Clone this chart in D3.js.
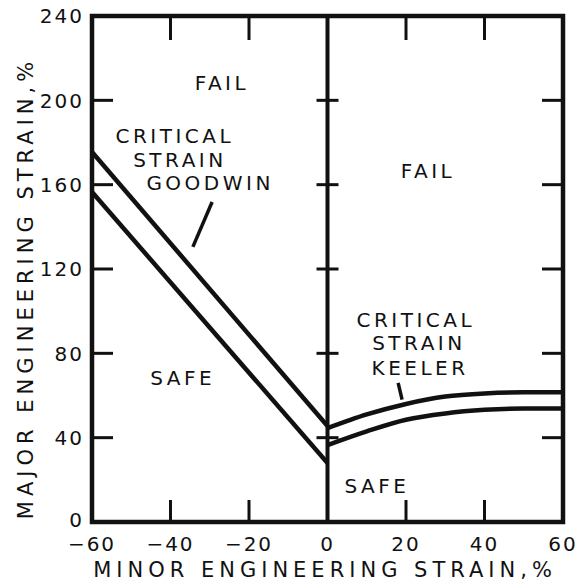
<!DOCTYPE html>
<html>
<head>
<meta charset="utf-8">
<script src="https://cdn.jsdelivr.net/npm/d3@7"></script>
<style>
  body { margin: 0; background: #fff; }
  text { font-family: "DejaVu Sans", sans-serif; fill: #111; }
</style>
</head>
<body>
<svg id="chart"></svg>
<script>
// forming limit chart, minor vs major engineering strain
const xTicks = [-60, -40, -20, 0, 20, 40, 60];
const yTicks = [0, 40, 80, 120, 160, 200, 240];

// goodwin critical strain band (straight lines, left half)
const goodwinUpper = [[-60, 175.5], [0, 45.5]];
const goodwinLower = [[-60, 156.5], [0, 28]];

// keeler critical strain band (right half)
const keelerMinor = [0, 10, 20, 30, 40, 50, 60];
const keelerUpper = [44.5, 51, 56, 59.5, 61, 61.5, 61.5];
const keelerLower = [36.5, 43, 48.5, 51.5, 53.2, 53.8, 53.8];

const notes = [
  { t: "FAIL", x: -26.9, y: 205 },
  { t: "CRITICAL", x: -38.9, y: 179.8 },
  { t: "STRAIN", x: -37.6, y: 168.4 },
  { t: "GOODWIN", x: -29.9, y: 157.5 },
  { t: "FAIL", x: 25.6, y: 163 },
  { t: "CRITICAL", x: 22.5, y: 92.5 },
  { t: "STRAIN", x: 23.3, y: 81.6 },
  { t: "KEELER", x: 23.6, y: 69.7 },
  { t: "SAFE", x: -36.9, y: 65 },
  { t: "SAFE", x: 12.6, y: 13.8 }
];
const leaders = [
  [[-29.4, 151.8], [-34.3, 130.5]],
  [[18, 66], [19, 58]]
];

const width = 580, height = 581;
const svg = d3.select('#chart').attr('width', width).attr('height', height);

const x = d3.scaleLinear().domain([-60, 60]).range([92, 563]);
const y = d3.scaleLinear().domain([0, 240]).range([522, 16]);

const line = d3.line().x(d => x(d[0])).y(d => y(d[1]));

// ticks (inward)
const tickX = xTicks.filter(d => d > -60 && d < 60 && d !== 0);
const tickY = yTicks.filter(d => d > 0 && d < 240);
const g = svg.append('g').attr('stroke', '#111').attr('stroke-width', 3);
tickX.forEach(d => {
  g.append('line').attr('x1', x(d)).attr('x2', x(d)).attr('y1', y(0)).attr('y2', y(0) - 22);
  g.append('line').attr('x1', x(d)).attr('x2', x(d)).attr('y1', y(240)).attr('y2', y(240) + 24);
});
tickY.forEach(d => {
  g.append('line').attr('x1', x(-60)).attr('x2', x(-60) + 21).attr('y1', y(d)).attr('y2', y(d));
  g.append('line').attr('x1', x(60)).attr('x2', x(60) - 21).attr('y1', y(d)).attr('y2', y(d));
  g.append('line').attr('x1', x(0) - 11).attr('x2', x(0) + 11).attr('y1', y(d)).attr('y2', y(d));
});

// frame + center line
svg.append('rect')
  .attr('x', x(-60)).attr('y', y(240))
  .attr('width', x(60) - x(-60)).attr('height', y(0) - y(240))
  .attr('fill', 'none').attr('stroke', '#111').attr('stroke-width', 4.5);
svg.append('line')
  .attr('x1', x(0)).attr('x2', x(0)).attr('y1', y(0)).attr('y2', y(240))
  .attr('stroke', '#111').attr('stroke-width', 4);

// critical strain curves
const curveLine = d3.line().x(d => x(d[0])).y(d => y(d[1])).curve(d3.curveMonotoneX);
[goodwinUpper, goodwinLower].forEach(p => {
  svg.append('path').attr('d', line(p)).attr('fill', 'none')
    .attr('stroke', '#111').attr('stroke-width', 4.5);
});
[keelerUpper, keelerLower].forEach(vals => {
  const pts = keelerMinor.map((m, i) => [m, vals[i]]);
  svg.append('path').attr('d', curveLine(pts)).attr('fill', 'none')
    .attr('stroke', '#111').attr('stroke-width', 4.5);
});

leaders.forEach(p => {
  svg.append('path').attr('d', line(p)).attr('stroke', '#111').attr('stroke-width', 3.5);
});

// tick labels
const fmt = d3.format('d');
svg.append('g').selectAll('text').data(xTicks).join('text')
  .attr('x', d => x(d)).attr('y', 551)
  .attr('text-anchor', 'middle')
  .attr('font-size', 20).attr('letter-spacing', 2)
  .text(d => fmt(d));
svg.append('g').selectAll('text').data(yTicks).join('text')
  .attr('x', 84).attr('y', d => y(d) - (d === 0 ? 2 : 0)).attr('dy', '0.36em')
  .attr('text-anchor', 'end')
  .attr('font-size', 20).attr('letter-spacing', 2)
  .text(d => d);

// axis titles
svg.append('text')
  .attr('x', 325).attr('y', 577)
  .attr('text-anchor', 'middle')
  .attr('font-size', 21).attr('letter-spacing', 5)
  .text('MINOR ENGINEERING STRAIN,%');
svg.append('text')
  .attr('transform', 'translate(33,288) rotate(-90)')
  .attr('text-anchor', 'middle')
  .attr('font-size', 21).attr('letter-spacing', 5)
  .text('MAJOR ENGINEERING STRAIN,%');

// region labels
svg.append('g').selectAll('text').data(notes).join('text')
  .attr('x', d => x(d.x)).attr('y', d => y(d.y))
  .attr('text-anchor', 'middle')
  .attr('font-size', 20).attr('letter-spacing', 3.5)
  .text(d => d.t);
</script>
</body>
</html>
